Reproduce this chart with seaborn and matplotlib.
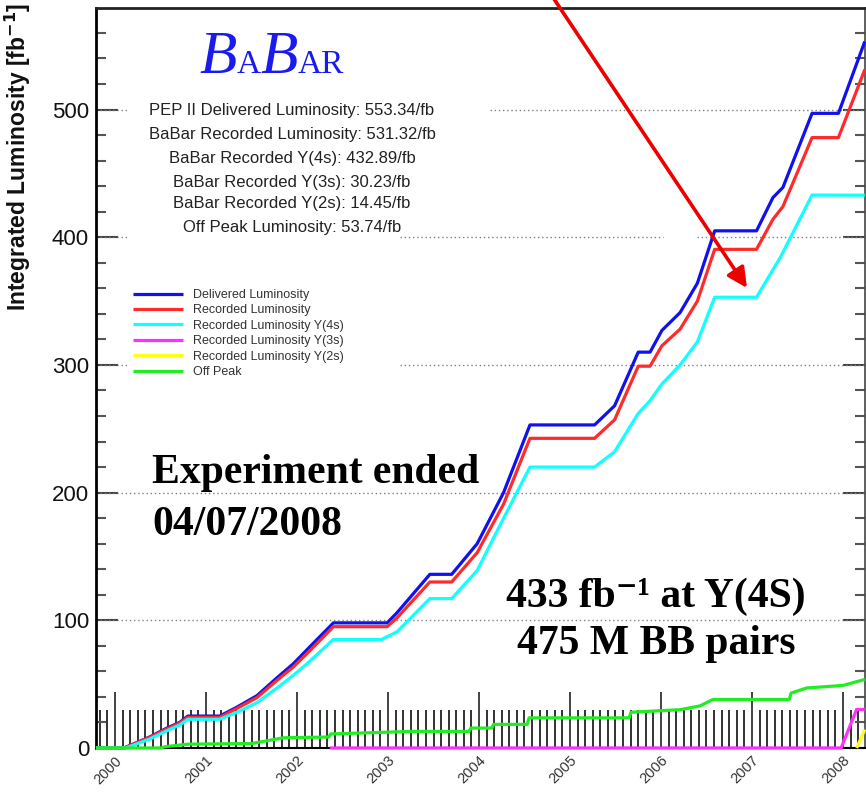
import numpy as np
import pandas as pd
import matplotlib
matplotlib.use("Agg")
import matplotlib.pyplot as plt
import seaborn as sns
from matplotlib.ticker import FixedLocator
from matplotlib.offsetbox import TextArea, HPacker, AnnotationBbox

# ---------------- data ----------------
years_lum = [1999.79, 2000.10, 2000.38, 2000.57, 2000.71, 2000.80, 2001.15, 2001.34, 2001.56,
             2001.78, 2001.96, 2002.11, 2002.40, 2002.99, 2003.10, 2003.28, 2003.46, 2003.70,
             2003.98, 2004.27, 2004.56, 2005.27, 2005.49, 2005.75, 2005.88, 2006.01, 2006.21,
             2006.40, 2006.59, 2007.05, 2007.23, 2007.34, 2007.66, 2007.95, 2008.24]
delivered = [0, 0, 8.6, 15.6, 20, 25, 25, 32, 41, 55, 66, 77, 98, 98, 106, 121, 136, 136,
             160, 200, 253, 253, 268, 310, 310, 327, 341, 364, 405, 405, 431, 439, 497, 497, 553.3]
recorded = [0, 0, 8.3, 15, 19.5, 24, 24, 31, 39.5, 53, 63.5, 74, 95, 95, 102, 116, 130, 130,
            153, 191, 242.5, 242.5, 257, 299, 299, 315, 328, 350, 390.5, 390.5, 414, 424, 478, 478, 531.3]

years_y4s = [1999.79, 2000.12, 2000.38, 2000.57, 2000.71, 2000.80, 2001.15, 2001.34, 2001.56,
             2001.78, 2001.96, 2002.11, 2002.40, 2002.93, 2003.10, 2003.28, 2003.46, 2003.70,
             2003.98, 2004.27, 2004.56, 2005.27, 2005.49, 2005.75, 2005.88, 2006.01, 2006.21,
             2006.40, 2006.59, 2007.05, 2007.31, 2007.66, 2008.24]
y4s = [0, 0, 7, 13.5, 18, 22.5, 22.5, 28, 35.5, 47, 57, 66, 85, 85, 91, 104, 117, 117,
       139, 180, 220, 220, 232, 262, 272, 285, 300, 318, 353, 353, 384, 433, 432.9]

years_y3s = [2002.36, 2007.98, 2008.15, 2008.24]
y3s = [0, 0, 30.2, 30.2]

years_y2s = [2008.15, 2008.24]
y2s = [0, 14.45]

years_off = [1999.79, 2000.50, 2000.55, 2000.80, 2001.50, 2001.85, 2002.35, 2002.37, 2003.27,
             2003.89, 2003.91, 2004.14, 2004.16, 2004.53, 2004.55, 2005.65, 2005.67, 2006.21,
             2006.43, 2006.57, 2007.41, 2007.43, 2007.60, 2008.00, 2008.24]
off_peak = [0, 0, 1, 3, 3.5, 8, 8.6, 11, 13, 13, 15.6, 15.6, 18.5, 18.5, 23.6, 23.6, 28, 30,
            33, 38, 38, 43, 47, 49, 53.7]

series_names = ["Delivered Luminosity", "Recorded Luminosity", "Recorded Luminosity Y(4s)",
                "Recorded Luminosity Y(3s)", "Recorded Luminosity Y(2s)", "Off Peak"]
series_colors = ["#1010f0", "#ff2a2a", "#10ffff", "#ff30ff", "#ffff10", "#20ee20"]

year_ticks = [2000, 2001, 2002, 2003, 2004, 2005, 2006, 2007, 2008]
lum_ticks = [0, 100, 200, 300, 400, 500]

stats_lines = ["PEP II Delivered Luminosity: 553.34/fb",
               "BaBar Recorded Luminosity: 531.32/fb",
               "BaBar Recorded Y(4s): 432.89/fb",
               "BaBar Recorded Y(3s): 30.23/fb",
               "BaBar Recorded Y(2s): 14.45/fb",
               "Off Peak Luminosity: 53.74/fb"]

# ---------------- build long table ----------------
frames = []
for name, xs, ys in zip(series_names,
                        [years_lum, years_lum, years_y4s, years_y3s, years_y2s, years_off],
                        [delivered, recorded, y4s, y3s, y2s, off_peak]):
    frames.append(pd.DataFrame({"year": xs, "lum": ys, "series": name}))
df = pd.concat(frames, ignore_index=True)

# ---------------- figure ----------------
sns.set_theme(style="white")
plt.rcParams["font.family"] = ["Liberation Sans", "DejaVu Sans"]

W, H = 866, 793
fig = plt.figure(figsize=(W / 100, H / 100), dpi=100)
fig.patch.set_facecolor("white")
ax = fig.add_axes([96 / W, 1 - 748 / H, (865 - 96) / W, (748 - 8) / H])
ax.set_facecolor("white")

def fx(px):
    return px / W

def fy(py):
    return 1 - py / H

# dotted grid segments
grid_kw = dict(colors="#808080", linestyles=(0, (1, 2)), linewidth=1.0,
               transform=ax.get_yaxis_transform(), zorder=1)
ax.hlines(100, 0, 1, **grid_kw)
ax.hlines(200, 0, 1, **grid_kw)
ax.hlines(300, 0, 0.04, **grid_kw)
ax.hlines(300, 0.395, 1, **grid_kw)
ax.hlines(400, 0, 0.04, **grid_kw)
ax.hlines(400, 0.395, 0.737, **grid_kw)
ax.hlines(400, 0.7815, 1, **grid_kw)
ax.hlines(500, 0, 0.04, **grid_kw)
ax.hlines(500, 0.512, 1, **grid_kw)

sns.lineplot(data=df, x="year", y="lum", hue="series", hue_order=series_names,
             palette=dict(zip(series_names, series_colors)), estimator=None, sort=False,
             linewidth=2.3, ax=ax, legend=True, zorder=3)
for ln in ax.get_lines():
    ln.set_clip_on(False)
    ln.set_solid_capstyle("butt")

ax.set_xlim(1999.791, 2008.242)
ax.set_ylim(0, 579.5)
ax.set_xlabel("")
ax.set_ylabel("")

# ticks
ax.set_xticks(year_ticks)
ax.set_xticklabels([str(y) for y in year_ticks], rotation=45, ha="right",
                   rotation_mode="anchor", fontsize=10.5, color="#333333")
months = np.arange(1999.75, 2008.25, 1 / 12)
ax.xaxis.set_minor_locator(FixedLocator(months))
ax.tick_params(axis="x", which="major", direction="in", length=40, width=1.2,
               color="#222222", pad=4, bottom=True, top=False)
ax.tick_params(axis="x", which="minor", direction="in", length=27.5, width=1.3,
               color="#222222", bottom=True, top=False)

ax.set_yticks(lum_ticks)
ax.set_yticklabels([str(v) for v in lum_ticks], fontsize=16, color="#111111")
ax.yaxis.set_minor_locator(FixedLocator(np.arange(0, 580, 20)))
ax.tick_params(axis="y", which="major", direction="in", length=16, width=1.5,
               color="#444444", pad=5, left=True, right=True)
ax.tick_params(axis="y", which="minor", direction="in", length=7.5, width=1.5,
               color="#555555", left=True, right=True)

for side, lw, col in [("left", 2.0, "#000000"), ("top", 2.0, "#222222"),
                      ("right", 1.2, "#444444"), ("bottom", 1.5, "#000000")]:
    ax.spines[side].set_visible(True)
    ax.spines[side].set_linewidth(lw)
    ax.spines[side].set_color(col)

# legend
handles, labels = ax.get_legend_handles_labels()
leg = ax.legend(handles, labels, loc="upper left",
                bbox_to_anchor=(fx(133), fy(289)), bbox_transform=fig.transFigure,
                frameon=False, fontsize=9, handlelength=4.0, handletextpad=0.8,
                labelspacing=0.27, borderpad=0, borderaxespad=0)
for t in leg.get_texts():
    t.set_color("#333333")
for h in leg.get_lines():
    h.set_linewidth(2.3)

# y label
fig.text(fx(18), fy(3), r"Integrated Luminosity [fb$^{\mathbf{-1}}$]", rotation=90,
         ha="center", va="top", fontsize=16.5, fontweight="bold", color="#111111",
         math_fontfamily="dejavusans")

# BaBar logo
blue = "#1a1aee"
big = dict(fontsize=44, family="Liberation Serif", style="italic", color=blue)
small = dict(fontsize=24, family="Liberation Serif", color=blue)
logo = HPacker(children=[TextArea("B", textprops=big), TextArea("A", textprops=small),
                         TextArea("B", textprops=big), TextArea("AR", textprops=small)],
               align="baseline", pad=0, sep=0)
ab = AnnotationBbox(logo, (fx(199), fy(86)), xycoords="figure fraction",
                    box_alignment=(0, 0), frameon=False, pad=0)
fig.add_artist(ab)

# stats text
stat_y = [110, 135, 158, 182, 204, 227]
for s, yy in zip(stats_lines, stat_y):
    fig.text(fx(292), fy(yy), s, ha="center", va="center",
             fontsize=12, color="#222222")

# big annotations
serif_bold = dict(fontsize=30, fontweight="bold", color="black")
fam = ["Liberation Serif", "DejaVu Serif"]
fig.text(fx(152), fy(483), "Experiment ended", ha="left", va="baseline", family=fam, **serif_bold)
fig.text(fx(152), fy(535), "04/07/2008", ha="left", va="baseline", family=fam, **serif_bold)
fig.text(fx(656), fy(607), "433 fb\u207b\u00b9 at Y(4S)", ha="center", va="baseline",
         family=fam, **serif_bold)
fig.text(fx(656), fy(654), "475 M BB pairs", ha="center", va="baseline", family=fam, **serif_bold)

# red arrow
ax.annotate("", xy=(fx(747), fy(288)), xycoords="figure fraction",
            xytext=(fx(544), fy(-16)), textcoords="figure fraction",
            arrowprops=dict(arrowstyle="-|>", color="#ee0000", lw=2.6,
                            mutation_scale=30, shrinkA=0, shrinkB=0),
            annotation_clip=False, zorder=10)

fig.savefig("out.png", dpi=100)
